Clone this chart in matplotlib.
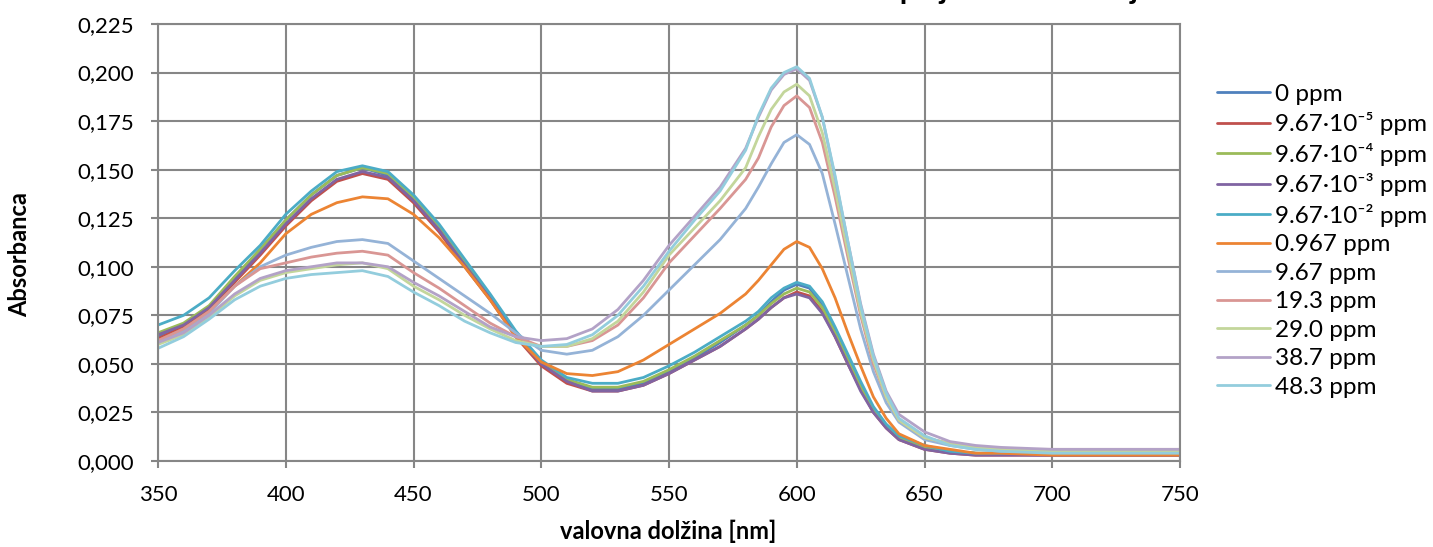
import matplotlib
matplotlib.use("Agg")

import matplotlib.pyplot as plt
import numpy as np

plt.rcParams["font.family"] = ["Lato", "DejaVu Sans"]

# ── podatki: valovne dolžine in absorbance posameznih raztopin ──
wavelength = [350, 360, 370, 380, 390, 400, 410, 420, 430, 440, 450, 460, 470, 480, 490,
              500, 510, 520, 530, 540, 550, 560, 570, 580, 585, 590, 595, 600, 605, 610,
              615, 620, 625, 630, 635, 640, 650, 660, 670, 680, 700, 725, 750]

abs_0 = [.064, .070, .079, .094, .109, .124, .137, .147, .151, .147, .135, .120, .102, .084, .065,
         .050, .041, .037, .037, .040, .046, .053, .061, .070, .075, .082, .088, .091, .089, .080,
         .067, .053, .039, .027, .018, .012, .007, .005, .004, .0035, .003, .003, .003]
abs_967e5 = [.063, .069, .078, .092, .106, .121, .134, .144, .148, .145, .133, .118, .100, .083, .064,
             .049, .040, .036, .036, .039, .045, .052, .059, .068, .073, .079, .084, .087, .085, .077,
             .064, .050, .037, .025, .017, .011, .006, .004, .003, .003, .003, .003, .003]
abs_967e4 = [.066, .071, .080, .095, .109, .124, .137, .147, .151, .148, .136, .121, .103, .085, .066,
             .051, .042, .038, .038, .041, .047, .054, .062, .070, .075, .081, .086, .089, .087, .079,
             .066, .052, .038, .026, .018, .012, .007, .005, .004, .004, .004, .004, .004]
abs_967e3 = [.065, .070, .079, .093, .107, .122, .135, .145, .149, .146, .134, .119, .101, .084, .065,
             .050, .041, .036, .036, .039, .045, .052, .059, .068, .073, .079, .084, .086, .084, .076,
             .064, .050, .036, .025, .017, .011, .006, .004, .003, .003, .003, .003, .003]
abs_967e2 = [.070, .075, .084, .098, .111, .127, .139, .149, .152, .149, .137, .122, .104, .086, .067,
             .052, .043, .040, .040, .043, .049, .056, .064, .072, .077, .084, .089, .092, .090, .082,
             .069, .055, .041, .028, .019, .013, .008, .005, .004, .004, .004, .004, .004]
abs_0967 = [.062, .068, .077, .090, .102, .117, .127, .133, .136, .135, .127, .115, .100, .083, .064,
            .051, .045, .044, .046, .052, .060, .068, .076, .086, .093, .101, .109, .113, .110, .099,
            .084, .066, .049, .033, .022, .014, .008, .006, .004, .004, .003, .003, .003]
abs_967 = [.061, .067, .076, .090, .100, .106, .110, .113, .114, .112, .103, .094, .085, .076, .066,
           .057, .055, .057, .064, .075, .088, .101, .114, .130, .141, .153, .164, .168, .163, .148,
           .122, .095, .068, .046, .030, .020, .011, .008, .006, .005, .005, .005, .005]
abs_193 = [.062, .068, .077, .090, .099, .102, .105, .107, .108, .106, .097, .089, .080, .071, .064,
           .059, .059, .062, .070, .084, .102, .116, .130, .145, .156, .172, .183, .188, .182, .164,
           .136, .105, .075, .050, .033, .021, .012, .009, .007, .006, .006, .006, .006]
abs_290 = [.060, .065, .074, .085, .093, .097, .099, .101, .102, .099, .090, .083, .075, .068, .062,
           .059, .059, .063, .072, .087, .106, .120, .134, .151, .167, .181, .190, .194, .188, .169,
           .140, .108, .077, .052, .033, .021, .012, .009, .007, .006, .005, .005, .005]
abs_387 = [.061, .066, .075, .086, .094, .098, .100, .102, .102, .100, .092, .085, .077, .069, .064,
           .062, .063, .068, .078, .093, .111, .126, .141, .161, .177, .191, .199, .202, .196, .177,
           .146, .113, .081, .055, .036, .024, .015, .010, .008, .007, .006, .006, .006]
abs_483 = [.058, .064, .073, .083, .090, .094, .096, .097, .098, .095, .087, .080, .072, .066, .061,
           .059, .060, .065, .075, .090, .108, .124, .139, .160, .178, .192, .200, .203, .197, .177,
           .147, .113, .080, .054, .035, .022, .013, .008, .006, .005, .004, .004, .004]

labels = ["0 ppm", "9.67·10⁻⁵ ppm", "9.67·10⁻⁴ ppm", "9.67·10⁻³ ppm", "9.67·10⁻² ppm",
          "0.967 ppm", "9.67 ppm", "19.3 ppm", "29.0 ppm", "38.7 ppm", "48.3 ppm"]
series = [abs_0, abs_967e5, abs_967e4, abs_967e3, abs_967e2, abs_0967,
          abs_967, abs_193, abs_290, abs_387, abs_483]
colors = ["#4F81BD", "#C0504D", "#9BBB59", "#8064A2", "#4BACC6", "#EC8433",
          "#95B3D7", "#D99694", "#C3D69B", "#B3A2C7", "#93CDDD"]

GRID = "#868686"
W, H = 1433, 547

fig = plt.figure(figsize=(W / 100, H / 100), dpi=100)
fig.patch.set_facecolor("white")
ax = fig.add_axes([158 / W, 1 - 461 / H, (1180 - 158) / W, (461 - 24) / H])

for y, lbl, col in zip(series, labels, colors):
    ax.plot(wavelength, y, color=col, linewidth=2.0, label=lbl,
            solid_joinstyle="round", solid_capstyle="round")

ax.set_xlim(350, 750)
ax.set_ylim(0, 0.225)
ax.set_xticks(np.arange(350, 751, 50))
ax.set_yticks(np.arange(0, 0.2251, 0.025))
ax.yaxis.set_major_formatter(plt.FuncFormatter(lambda v, _: f"{v:.3f}".replace(".", ",")))

ax.grid(True, color=GRID, linewidth=1.5)
ax.set_axisbelow(True)
for sp in ax.spines.values():
    sp.set_color(GRID)
    sp.set_linewidth(1.5)
ax.tick_params(axis="both", direction="out", length=5, width=1.5, color=GRID,
               labelsize=16, labelcolor="black")
ax.tick_params(axis="x", pad=12)
ax.tick_params(axis="y", pad=12)

# naslova osi
fig.text(668 / W, 1 - 531 / H, "valovna dolžina [nm]", fontsize=17,
         fontweight="bold", ha="center", va="center")
fig.text(20 / W, 1 - 255 / H, "Absorbanca", fontsize=17, fontweight="bold",
         rotation=90, ha="center", va="center")

ax.legend(loc="upper left", bbox_to_anchor=(1.027, 0.886), frameon=False,
          fontsize=17.5, handlelength=2.18, handletextpad=0.2,
          labelspacing=0.31, borderaxespad=0)

# naslov je odrezan na zgornjem robu
fig.text(819 / W, 1 + 1 / H, "Absorpcija koncentracij", fontsize=22,
         fontweight="bold", ha="left", va="baseline")

fig.savefig("out.png", dpi=100, facecolor="white")
plt.close(fig)
